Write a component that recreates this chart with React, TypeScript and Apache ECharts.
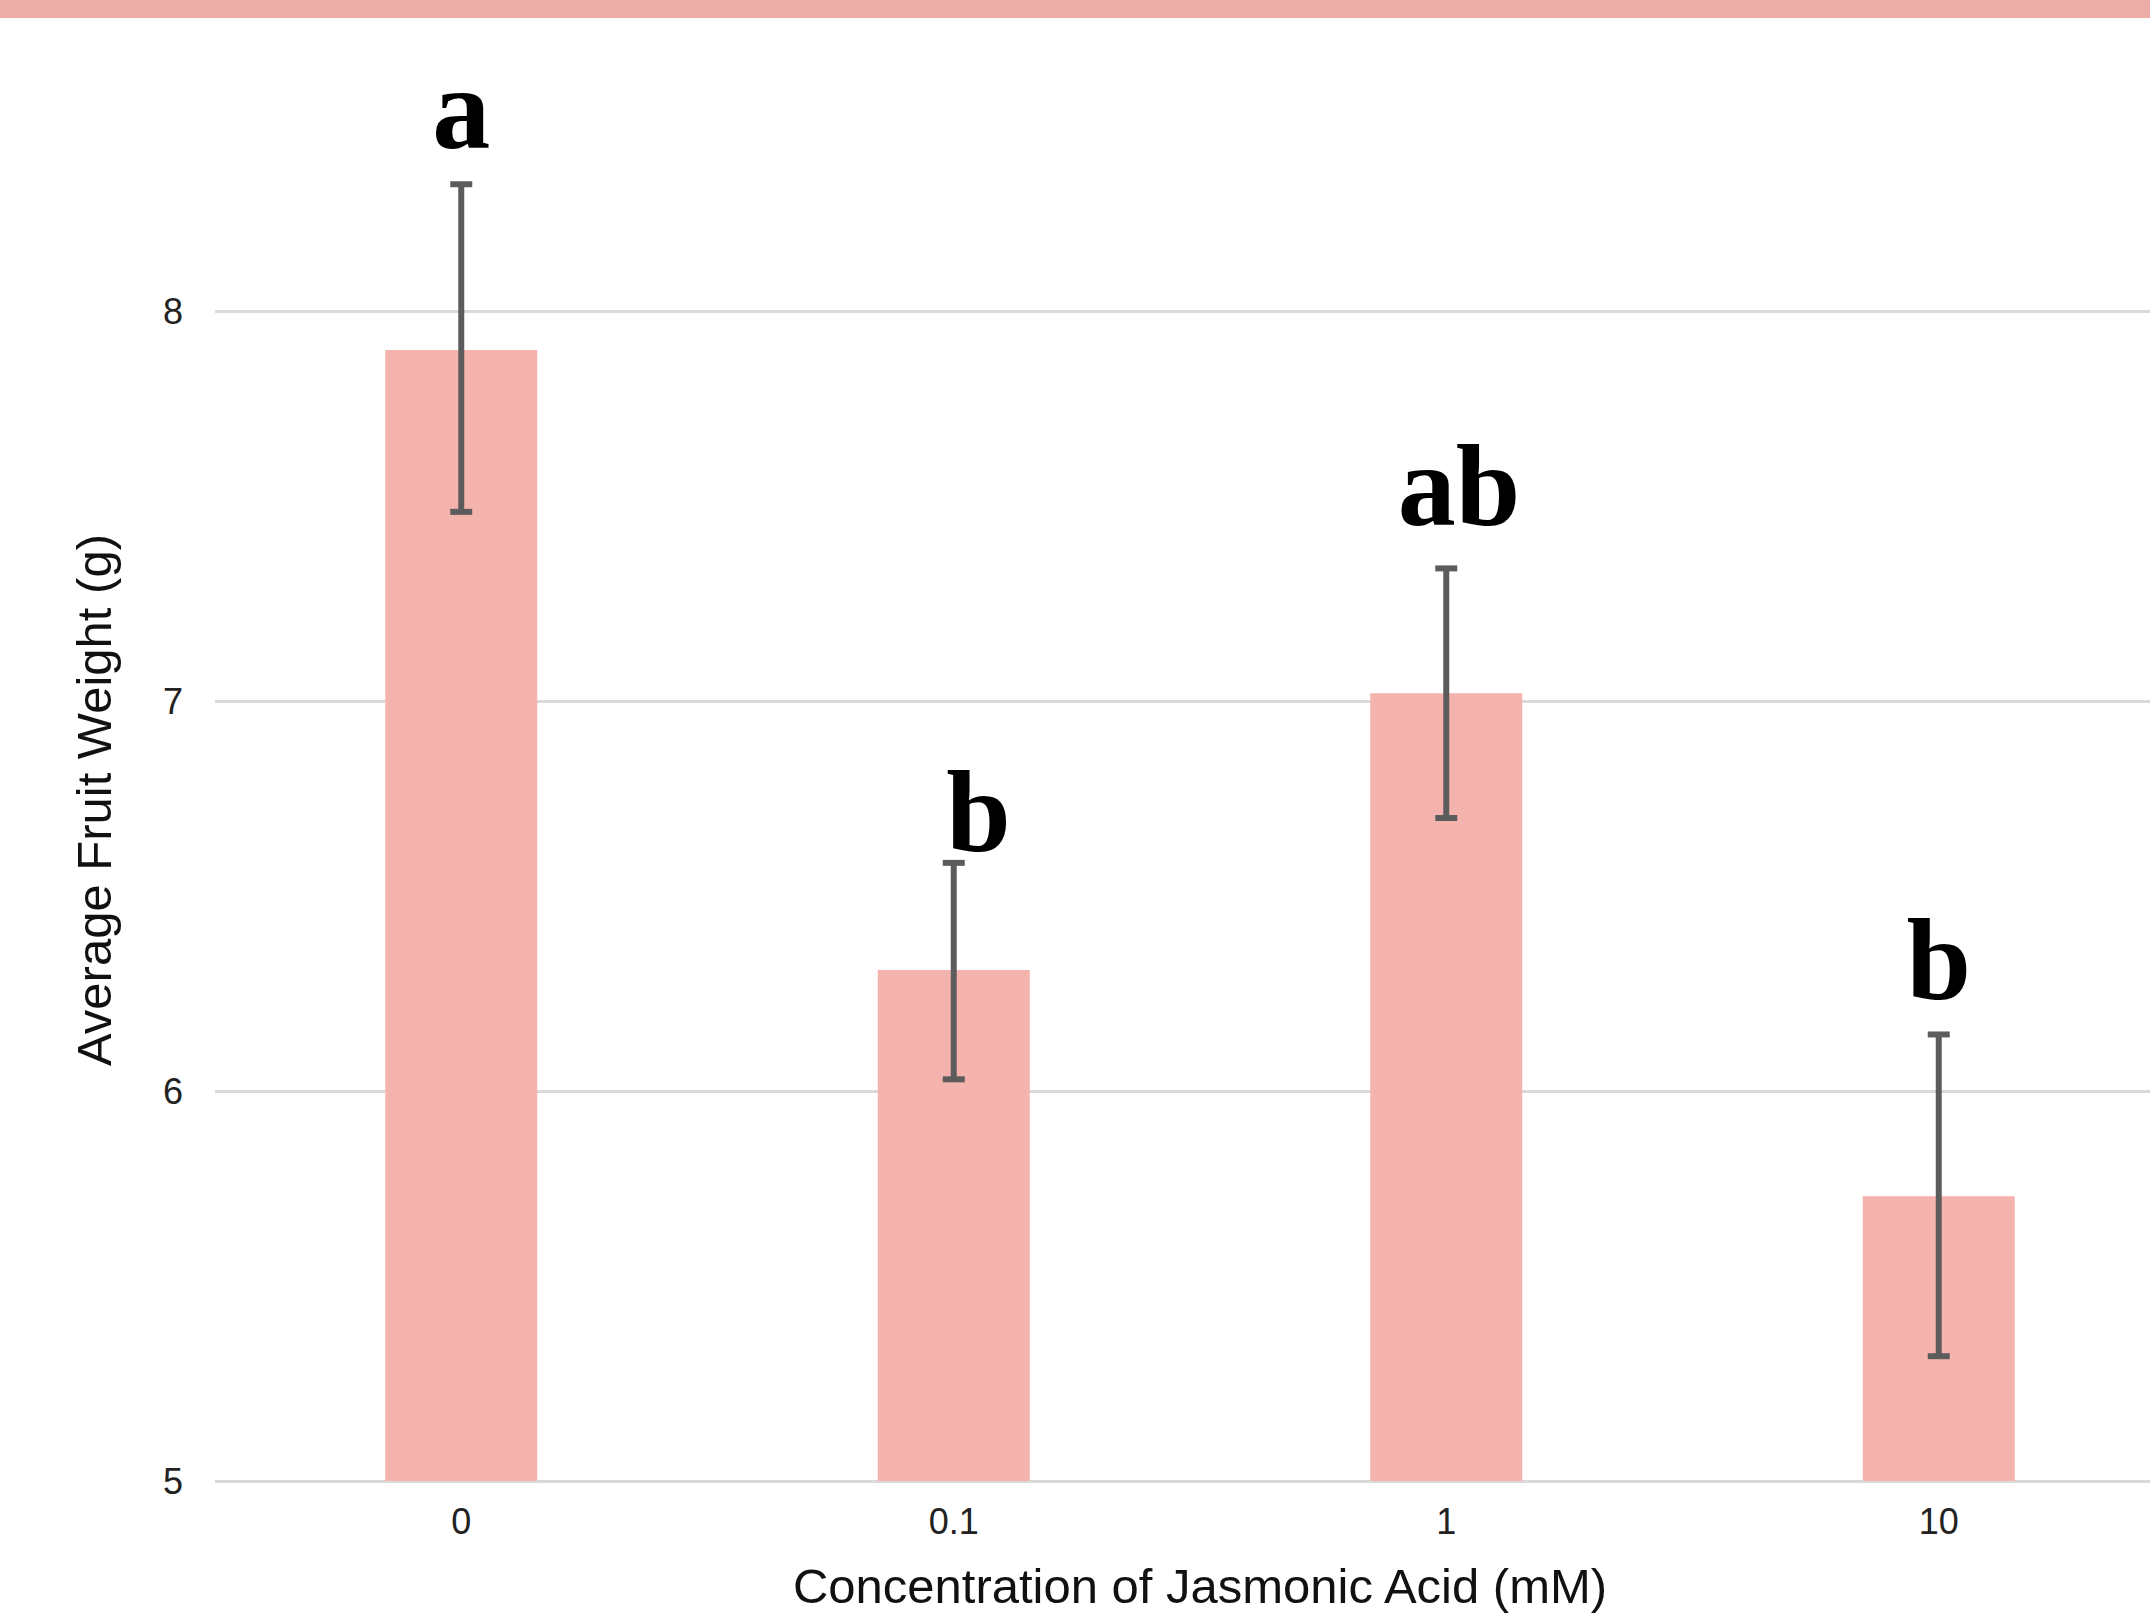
import React, { useEffect, useRef } from 'react';
import * as echarts from 'echarts';

const categories = ['0', '0.1', '1', '10'];
const means = [7.9, 6.31, 7.02, 5.73];
const errLow = [7.485, 6.03, 6.7, 5.32];
const errHigh = [8.325, 6.585, 7.34, 6.145];
const letters = ['a', 'b', 'ab', 'b'];
const letterBase = [8.418, 6.613, 7.451, 6.236];
const letterShift = [0, 0.05, 0.026, 0];
const yMin = 5;
const yMax = 9;
const yStep = 1;

const LETTER_SIZE = 116;

export default function App() {
  const ref = useRef<HTMLDivElement>(null);
  useEffect(() => {
    document.body.style.margin = '0';
    const chart = echarts.init(ref.current!, null, { renderer: 'svg' });
    chart.setOption({
      animation: false,
      backgroundColor: '#ffffff',
      graphic: [
        {
          type: 'rect',
          left: 0,
          top: 0,
          shape: { width: 2150, height: 18 },
          style: { fill: '#ebada5' },
          z: 100,
        },
      ],
      grid: {
        left: 215,
        top: -79,
        width: 1970,
        height: 1560,
        outerBoundsMode: 'none',
        containLabel: false,
      },
      xAxis: {
        type: 'category',
        data: categories,
        axisLine: { show: false },
        axisTick: { show: false },
        axisLabel: {
          fontSize: 36,
          color: '#222',
          margin: 22,
          fontFamily: 'Liberation Sans',
        },
        name: 'Concentration of Jasmonic Acid (mM)',
        nameLocation: 'middle',
        nameGap: 80,
        nameTextStyle: { fontSize: 49, color: '#111', fontFamily: 'Liberation Sans' },
      },
      yAxis: {
        type: 'value',
        min: yMin,
        max: yMax,
        interval: yStep,
        axisLine: { show: false },
        axisTick: { show: false },
        splitLine: { lineStyle: { color: '#d9d9d9', width: 3 } },
        axisLabel: {
          fontSize: 36,
          color: '#222',
          margin: 32,
          fontFamily: 'Liberation Sans',
          showMaxLabel: false,
        },
        name: 'Average Fruit Weight (g)',
        nameLocation: 'middle',
        nameGap: 97,
        nameRotate: 90,
        nameTextStyle: {
          fontSize: 49,
          color: '#111',
          fontFamily: 'Liberation Sans',
          padding: [0, 198, 0, 0],
        },
      },
      series: [
        {
          type: 'bar',
          data: means,
          barWidth: 152,
          itemStyle: { color: '#f5b3ae' },
          z: 2,
        },
        {
          type: 'custom',
          data: categories.map((_, i) => [i, errLow[i], errHigh[i]]),
          encode: { x: 0, y: [1, 2] },
          clip: false,
          z: 5,
          renderItem: (params: any, api: any) => {
            const i = api.value(0);
            const lo = api.coord([i, api.value(1)]);
            const hi = api.coord([i, api.value(2)]);
            const x = lo[0];
            const c = 11;
            const st = { stroke: '#5c5c5c', lineWidth: 6 };
            return {
              type: 'group',
              children: [
                { type: 'line', shape: { x1: x, y1: hi[1], x2: x, y2: lo[1] }, style: st },
                { type: 'line', shape: { x1: x - c, y1: hi[1], x2: x + c, y2: hi[1] }, style: st },
                { type: 'line', shape: { x1: x - c, y1: lo[1], x2: x + c, y2: lo[1] }, style: st },
              ],
            };
          },
        },
        {
          type: 'custom',
          data: categories.map((_, i) => [i, letterBase[i]]),
          encode: { x: 0, y: 1 },
          clip: false,
          z: 6,
          renderItem: (params: any, api: any) => {
            const i = params.dataIndex;
            const p = api.coord([api.value(0), api.value(1)]);
            const bw = api.size([1, 0])[0];
            return {
              type: 'text',
              x: p[0] + letterShift[i] * bw,
              y: p[1] - 0.34 * LETTER_SIZE,
              style: {
                text: letters[i],
                fontSize: LETTER_SIZE,
                fontWeight: 'bold',
                fontFamily: 'Liberation Serif',
                fill: '#000',
                align: 'center',
                verticalAlign: 'middle',
              },
            };
          },
        },
      ],
    });
    return () => chart.dispose();
  }, []);
  return <div ref={ref} style={{ width: 2150, height: 1613 }} />;
}
